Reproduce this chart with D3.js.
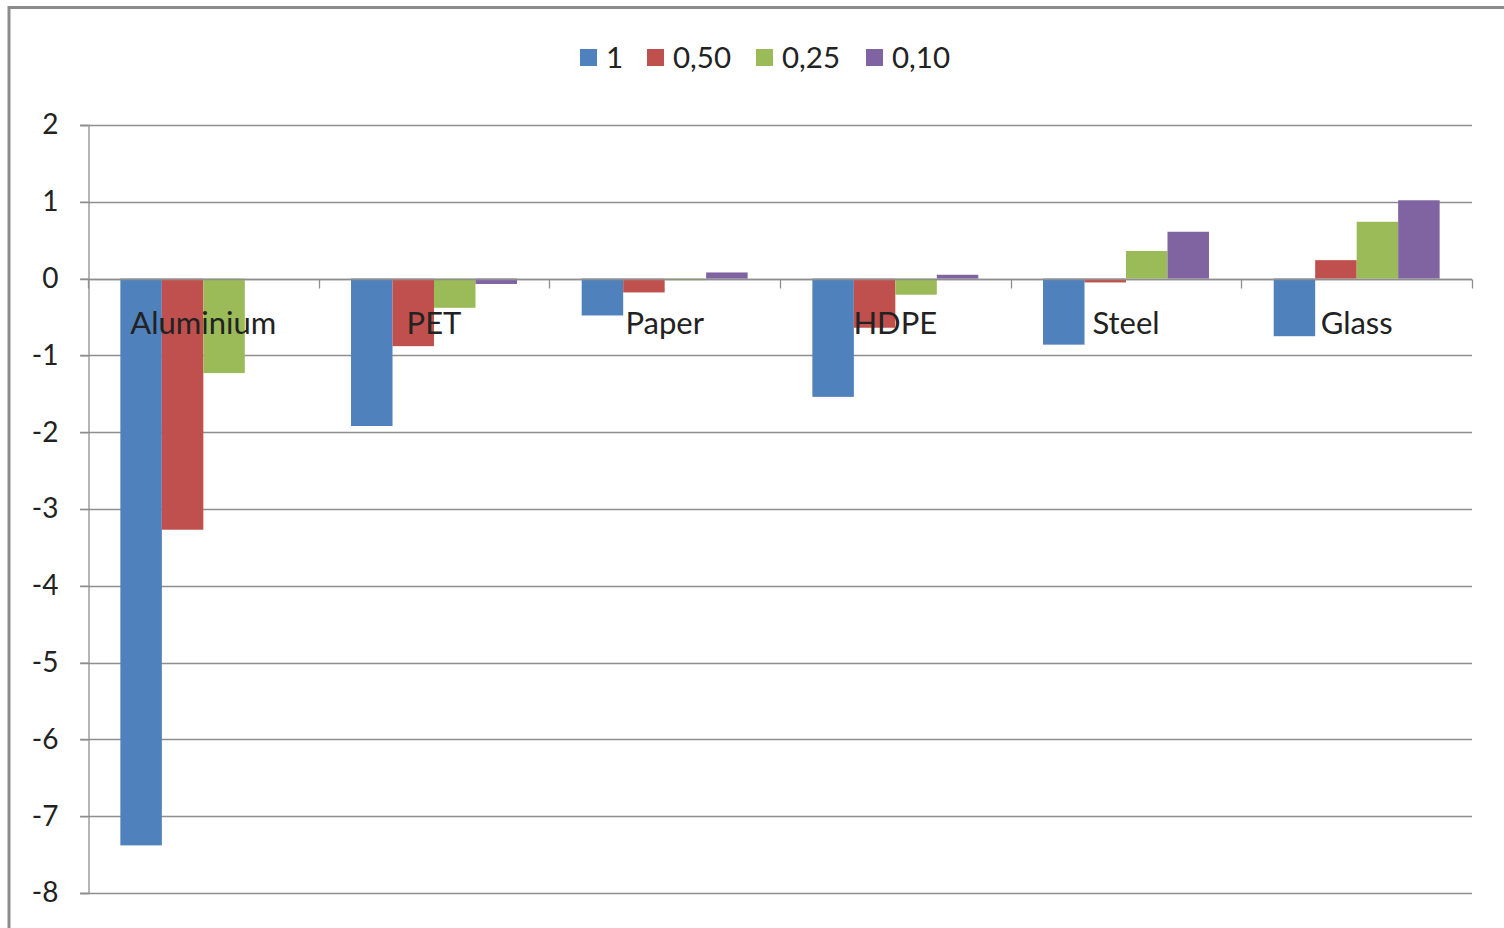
<!DOCTYPE html>
<html>
<head>
<meta charset="utf-8">
<script src="https://cdn.jsdelivr.net/npm/d3@7"></script>
<style>
  html, body { margin: 0; padding: 0; background: #fff; }
  svg { display: block; }
  text { font-family: Lato, "Open Sans", "Liberation Sans", sans-serif; fill: #222; }
</style>
</head>
<body>
<svg id="chart" width="1504" height="928"></svg>
<script>
// Materials on the category axis
const categories = ["Aluminium", "PET", "Paper", "HDPE", "Steel", "Glass"];
// Series names (legend)
const seriesNames = ["1", "0,50", "0,25", "0,10"];
// Values per series, one per material
const series1   = [-7.38, -1.92, -0.48, -1.54, -0.86, -0.75];
const series050 = [-3.27, -0.88, -0.18, -0.64, -0.05,  0.24];
const series025 = [-1.23, -0.38, -0.02, -0.21,  0.36,  0.74];
const series010 = [ 0.00, -0.07,  0.08,  0.05,  0.61,  1.02];
const yTicks = [2, 1, 0, -1, -2, -3, -4, -5, -6, -7, -8];

const seriesValues = [series1, series050, series025, series010];
const colors = ["#4F81BD", "#C0504D", "#9BBB59", "#8064A2"];

const svg = d3.select("#chart");
const W = 1504, H = 928;

// outer frame
svg.append("rect")
  .attr("x", 9).attr("y", 7.5).attr("width", W + 20).attr("height", H + 20)
  .attr("fill", "none").attr("stroke", "#8c8c8c").attr("stroke-width", 3);

const plot = { left: 88, right: 1472, top: 125, bottom: 893 };

const x = d3.scaleBand().domain(categories).range([plot.left, plot.right]).paddingInner(0).paddingOuter(0);
const xInner = d3.scaleBand().domain(d3.range(seriesNames.length))
  .range([0, x.bandwidth()]).paddingInner(0).paddingOuter(0.78);
const y = d3.scaleLinear().domain([-8, 2]).range([plot.bottom, plot.top]);

const gridColor = "#8e8e8e";

// horizontal gridlines
svg.append("g").selectAll("line").data(yTicks).join("line")
  .attr("x1", plot.left - 8).attr("x2", plot.right)
  .attr("y1", d => Math.round(y(d)) + 0.5).attr("y2", d => Math.round(y(d)) + 0.5)
  .attr("stroke", gridColor).attr("stroke-width", 1.3);

// y axis
const yAxis = d3.axisLeft(y).tickValues(yTicks).tickSize(8).tickPadding(22)
  .tickFormat(d => d3.format("d")(d).replace("−", "-"));
const gy = svg.append("g").attr("transform", `translate(${plot.left + 0.5},0)`).call(yAxis);
gy.select(".domain").attr("stroke", gridColor).attr("stroke-width", 1.3);
gy.selectAll(".tick line").attr("stroke", gridColor).attr("stroke-width", 1.3);
gy.selectAll(".tick text").attr("font-size", 28).attr("fill", "#222")
  .attr("font-family", "Lato, 'Open Sans', sans-serif");

// bars
const groups = svg.append("g").selectAll("g").data(categories).join("g")
  .attr("transform", d => `translate(${x(d)},0)`);
groups.selectAll("rect")
  .data((c, i) => seriesValues.map((vals, s) => ({ s, v: vals[i] })))
  .join("rect")
  .attr("x", d => xInner(d.s))
  .attr("width", xInner.bandwidth())
  .attr("y", d => y(Math.max(0, d.v)))
  .attr("height", d => Math.abs(y(d.v) - y(0)))
  .attr("fill", d => colors[d.s]);

// category axis on the zero line
const zeroY = Math.round(y(0)) + 0.5;
svg.append("line").attr("x1", plot.left).attr("x2", plot.right)
  .attr("y1", zeroY).attr("y2", zeroY).attr("stroke", gridColor).attr("stroke-width", 1.3);
const boundaries = categories.map(c => x(c)).concat([plot.right]);
svg.append("g").selectAll("line").data(boundaries).join("line")
  .attr("x1", d => Math.round(d) + 0.5).attr("x2", d => Math.round(d) + 0.5)
  .attr("y1", zeroY).attr("y2", zeroY + 9)
  .attr("stroke", gridColor).attr("stroke-width", 1.3);

// category labels next to the axis
svg.append("g").selectAll("text").data(categories).join("text")
  .attr("x", d => x(d) + x.bandwidth() / 2)
  .attr("y", zeroY + 54)
  .attr("text-anchor", "middle")
  .attr("font-size", 31)
  .attr("fill", "#222")
  .text(d => d);

// legend
const legendX = [580, 647, 756, 866];
const legend = svg.append("g").selectAll("g").data(seriesNames).join("g")
  .attr("transform", (d, i) => `translate(${legendX[i]},49)`);
legend.append("rect").attr("width", 17).attr("height", 17).attr("fill", (d, i) => colors[i]);
legend.append("text").attr("x", 26).attr("y", 19).attr("font-size", 29.5).attr("fill", "#222").text(d => d);
</script>
</body>
</html>
